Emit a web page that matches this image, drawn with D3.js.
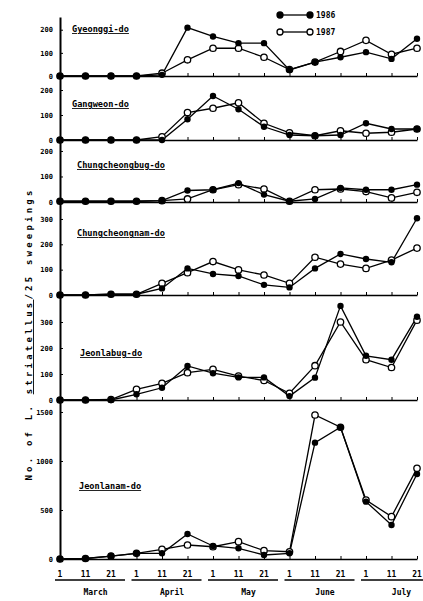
<!DOCTYPE html>
<html>
<head>
<meta charset="utf-8">
<script src="https://cdn.jsdelivr.net/npm/d3@7"></script>
<style>
  html, body { margin: 0; padding: 0; background: #fff; }
  svg { display: block; }
  text { font-family: "DejaVu Sans Mono", monospace; font-weight: bold; fill: #000; }
</style>
</head>
<body>
<svg id="chart" width="423" height="601"></svg>
<script>
// ---------- data ----------
const dates = ["Mar 1","Mar 11","Mar 21","Apr 1","Apr 11","Apr 21","May 1","May 11","May 21","Jun 1","Jun 11","Jun 21","Jul 1","Jul 11","Jul 21"];
const dayLabels = ["1","11","21","1","11","21","1","11","21","1","11","21","1","11","21"];
const months = ["March","April","May","June","July"];
const provinces = ["Gyeonggi-do","Gangweon-do","Chungcheongbug-do","Chungcheongnam-do","Jeonlabug-do","Jeonlanam-do"];

const y1986_Gyeonggi   = [0,0,0,0,5,209,171,142,142,26,60,81,103,74,161];
const y1987_Gyeonggi   = [0,0,0,0,12,70,120,120,81,28,60,106,154,94,120];
const y1986_Gangweon   = [0,0,0,0,0,83,176,123,53,20,17,20,67,44,44];
const y1987_Gangweon   = [0,0,0,0,13,110,127,149,67,29,17,37,27,31,44];
const y1986_Chungbug   = [3,3,3,3,5,45,48,74,29,3,12,55,48,48,68];
const y1987_Chungbug   = [3,3,3,3,5,12,48,68,51,3,48,51,41,16,38];
const y1986_Chungnam   = [0,0,3,3,26,105,83,75,40,30,105,162,142,129,303];
const y1987_Chungnam   = [0,0,3,3,46,88,132,99,79,46,149,122,105,138,185];
const y1986_Jeonbug    = [0,0,0,22,47,131,103,87,87,15,86,362,170,155,320];
const y1987_Jeonbug    = [0,0,2,41,64,105,118,92,75,26,132,300,155,125,307];
const y1986_Jeonnam    = [0,5,30,58,58,255,133,109,41,58,1187,1344,585,347,867];
const y1987_Jeonnam    = [0,5,30,58,99,143,125,177,85,74,1469,1344,602,432,925];

const series1986 = [y1986_Gyeonggi, y1986_Gangweon, y1986_Chungbug, y1986_Chungnam, y1986_Jeonbug, y1986_Jeonnam];
const series1987 = [y1987_Gyeonggi, y1987_Gangweon, y1987_Chungbug, y1987_Chungnam, y1987_Jeonbug, y1987_Jeonnam];
const yTicks = [[0,100,200],[0,100,200],[0,100,200],[0,100,200,300],[0,100,200,300],[0,500,1000,1500]];
const yMax = [255,252,239,363,400,1612];
const legendLabels = ["1986","1987"];

// ---------- layout ----------
const panelZero = [76,140,202,295,400,559];
const panelTop  = [17,77,141,203,296,401];
const titlePos  = [[72,32],[72,107],[77,168],[77,236],[80,356],[79,489]];

const svg = d3.select("#chart");
const x = d3.scalePoint().domain(dates).range([60, 417]);

provinces.forEach((name, p) => {
  const y = d3.scaleLinear().domain([0, yMax[p]]).range([panelZero[p], panelTop[p]]);
  const g = svg.append("g");

  // baseline with small upward ticks
  const xa = g.append("g").attr("transform", `translate(0,${panelZero[p]})`)
    .call(d3.axisBottom(x).tickSizeInner(-3).tickSizeOuter(0).tickFormat(""));
  xa.select(".domain").attr("stroke-width", 1.6);
  xa.selectAll(".tick line").attr("stroke-width", 1);

  // y axis
  const ya = g.append("g").attr("transform", "translate(60,0)")
    .call(d3.axisLeft(y).tickValues(yTicks[p]).tickFormat(d3.format("d"))
      .tickSizeInner(-3).tickSizeOuter(0).tickPadding(7));
  ya.select(".domain").attr("stroke-width", 2);
  ya.selectAll(".tick text").attr("font-size", 7).attr("font-family", "DejaVu Sans Mono, monospace").attr("font-weight", "bold");

  // title
  g.append("text").attr("x", titlePos[p][0]).attr("y", titlePos[p][1])
    .attr("font-size", 8.6).attr("text-decoration", "underline").text(name);

  const line = d3.line().x((d, i) => x(dates[i])).y(d => y(d));
  g.append("path").datum(series1987[p]).attr("d", line)
    .attr("fill", "none").attr("stroke", "#000").attr("stroke-width", 1.3);
  g.append("path").datum(series1986[p]).attr("d", line)
    .attr("fill", "none").attr("stroke", "#000").attr("stroke-width", 1.3);
  g.selectAll(".o").data(series1987[p]).enter().append("circle")
    .attr("cx", (d, i) => x(dates[i])).attr("cy", d => y(d)).attr("r", 3.2)
    .attr("fill", "#fff").attr("stroke", "#000").attr("stroke-width", 1.3);
  g.selectAll(".f").data(series1986[p]).enter().append("circle")
    .attr("cx", (d, i) => x(dates[i])).attr("cy", d => y(d)).attr("r", 3.2)
    .attr("fill", "#000");
});

// bottom day labels
svg.append("g").selectAll("text").data(dayLabels).enter().append("text")
  .attr("x", (d, i) => x(dates[i])).attr("y", 577).attr("text-anchor", "middle")
  .attr("font-size", 8).text(d => d);

// month underlines and names
months.forEach((m, k) => {
  const x1 = x(dates[k * 3]), x3 = x(dates[k * 3 + 2]);
  svg.append("line").attr("x1", x1 - 5).attr("x2", x3 + 14).attr("y1", 580).attr("y2", 580)
    .attr("stroke", "#000").attr("stroke-width", 1.3);
  svg.append("text").attr("x", (x1 + x3) / 2 + 10).attr("y", 595).attr("text-anchor", "middle")
    .attr("font-size", 8).text(m);
});

// legend
const leg = svg.append("g");
[0, 1].forEach(k => {
  const ly = k === 0 ? 15 : 32;
  leg.append("line").attr("x1", 280).attr("x2", 310).attr("y1", ly).attr("y2", ly)
    .attr("stroke", "#000").attr("stroke-width", 1.3);
  [280, 310].forEach(cx => {
    leg.append("circle").attr("cx", cx).attr("cy", ly).attr("r", 3)
      .attr("fill", k === 0 ? "#000" : "#fff").attr("stroke", "#000").attr("stroke-width", 1.3);
  });
  leg.append("text").attr("x", 316).attr("y", ly + 3).attr("font-size", 8).text(legendLabels[k]);
});

// y axis title
const yt = svg.append("text").attr("transform", "translate(32,334) rotate(-90)")
  .attr("text-anchor", "middle").attr("font-size", 9).attr("letter-spacing", 3.2);
yt.append("tspan").text("No. of L. ");
yt.append("tspan").attr("text-decoration", "underline").text("striatellus");
yt.append("tspan").text("/25 sweepings");
</script>
</body>
</html>
